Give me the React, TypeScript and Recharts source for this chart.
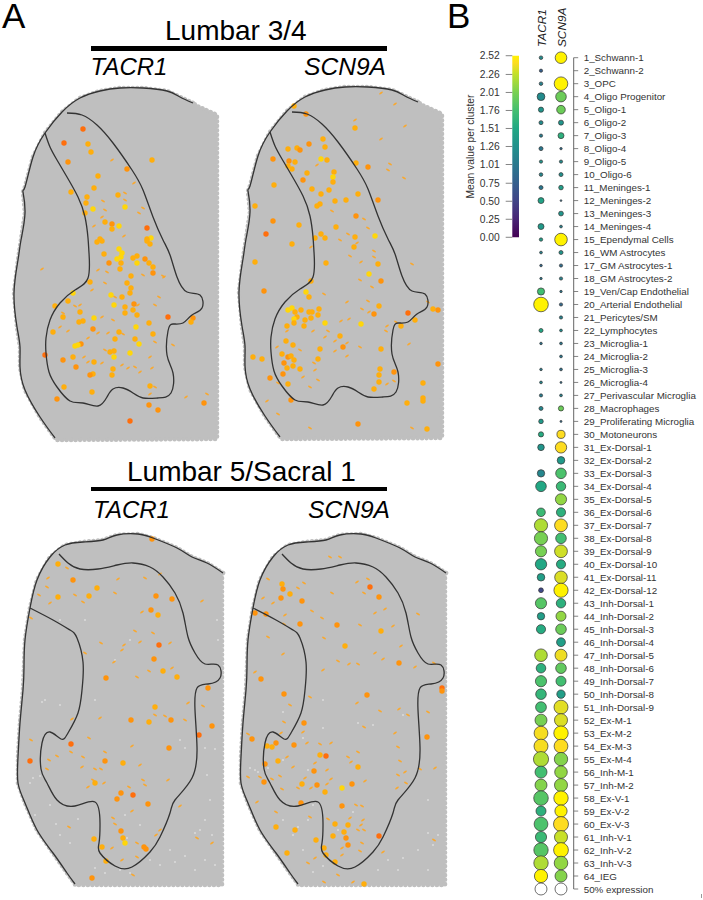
import { Bar, BarChart, Cell, Scatter, ScatterChart, XAxis, YAxis, ZAxis } from "recharts"

const clusterLabels = [
  "1_Schwann-1", "2_Schwann-2", "3_OPC", "4_Oligo Progenitor", "5_Oligo-1", "6_Oligo-2", "7_Oligo-3", "8_Oligo-4",
  "9_Oligo-5", "10_Oligo-6", "11_Meninges-1", "12_Meninges-2", "13_Meninges-3", "14_Meninges-4", "15_Ependymal Cells",
  "16_WM Astrocytes", "17_GM Astrocytes-1", "18_GM Astrocytes-2", "19_Ven/Cap Endothelial", "20_Arterial Endothelial",
  "21_Pericytes/SM", "22_Lymphocytes", "23_Microglia-1", "24_Microglia-2", "25_Microglia-3", "26_Microglia-4",
  "27_Perivascular Microglia", "28_Macrophages", "29_Proliferating Microglia", "30_Motoneurons", "31_Ex-Dorsal-1",
  "32_Ex-Dorsal-2", "33_Ex-Dorsal-3", "34_Ex-Dorsal-4", "35_Ex-Dorsal-5", "36_Ex-Dorsal-6", "37_Ex-Dorsal-7",
  "38_Ex-Dorsal-8", "39_Ex-Dorsal-9", "40_Ex-Dorsal-10", "41_Ex-Dorsal-11", "42_Ex-Dorsal-12", "43_Inh-Dorsal-1",
  "44_Inh-Dorsal-2", "45_Inh-Dorsal-3", "46_Inh-Dorsal-4", "47_Inh-Dorsal-5", "48_Inh-Dorsal-6", "49_Inh-Dorsal-7",
  "50_Inh-Dorsal-8", "51_Inh-Dorsal-9", "52_Ex-M-1", "53_Ex-M-2", "54_Ex-M-3", "55_Ex-M-4", "56_Inh-M-1", "57_Inh-M-2",
  "58_Ex-V-1", "59_Ex-V-2", "60_Ex-V-3", "61_Inh-V-1", "62_Inh-V-2", "63_Inh-V-3", "64_IEG", "50% expression",
]

// percent of cells expressing, per cluster (null = no dot)
const tacr1Pct = [
  4.5, 3.6, 4.5, 21, 9.4, 5.6, 3.6, 5.6, 3.6, 4.5, 5.6, 12.5, null, 12.5, 4, 2.7, 2.3, 2, 18, 74,
  null, 5.6, 2.3, null, 2.3, 2.7, 3.6, 5.6, 7.3, 9.4, 15, null, 19, 39, null, 25.7, 60.5, 60.5, 43.5, 45,
  20, 8, 43.5, 19, 29, null, 55, 32, 43.5, 39, 40.5, 50, 66, 68, 80, 50, 50, 74, 35, 66, 43.5, 72, 72, 60.5, 50,
]
const scn9aPct = [
  47, null, 64, 39, 25.7, 8.7, 12.5, 2, 3.6, 5.6, 7.3, 1.1, 8, 2.7, 55, 5.6, 3.6, 3.6, 2, 3.6,
  3.6, 2.7, 2.7, 2.7, 2.7, 1.4, 2.7, 9.4, 1.4, 23, 45, 20, 39, 31, 43.5, 29, 57, 39, 57, 29,
  55, 70, 31, 35, 39, 27, 50, 39, 35, 24.5, 68, 59, 72, 66, 62, 55, 59, 72, 52, 78, 59, 76, 64, 50, 50,
]
// mean value per cluster, drives the dot colour (null on the legend row = white)
const tacr1Mean = [
  1.2, 0.75, 1.1, 1.2, 1.3, 1.2, 1.05, 1.0, 1.3, 1.15, 1.0, 1.45, null, 1.35, 1.4, 1.1, 0.85, 1.0, 1.75, 2.52,
  null, 1.5, 0.95, null, 1.05, 1.15, 1.05, 1.15, 1.35, 1.55, 1.3, null, 1.15, 1.5, null, 1.7, 2.2, 2.0, 2.0, 1.5,
  1.4, 0.55, 1.85, 1.4, 1.55, null, 2.2, 1.6, 1.8, 1.65, 1.75, 2.0, 2.4, 2.4, 2.2, 1.75, 2.05, 1.85, 1.6, 1.8, 1.7, 1.85, 2.2, 2.52, null,
]
const scn9aMean = [
  2.52, null, 2.52, 1.95, 1.95, 1.3, 1.6, 0.9, 1.2, 1.25, 1.4, 0.9, 1.3, 1.1, 2.52, 1.3, 0.9, 1.1, 1.0, 0.85,
  1.1, 1.2, 1.0, 1.0, 0.95, 0.9, 1.1, 1.95, 0.9, 2.42, 2.42, 1.35, 1.8, 1.7, 2.1, 1.6, 2.42, 1.75, 2.3, 1.55,
  2.33, 2.52, 1.6, 2.1, 1.95, 1.4, 2.38, 1.9, 1.75, 1.4, 2.35, 2.33, 2.52, 2.42, 2.05, 2.1, 2.1, 2.52, 2.52, 2.42, 2.28, 2.52, 2.1, 2.05, null,
]
const colorTicks = [0, 0.25, 0.5, 0.75, 1.01, 1.26, 1.51, 1.76, 2.01, 2.26, 2.52]

const outerUpper = [
  [193, 103], [180, 97], [167, 91], [143, 88], [120, 88], [100, 91], [80, 98], [62, 112], [45, 133], [33, 157], [25, 187],
  [23, 192], [25, 213], [21, 240], [18, 260], [14, 293], [17, 327], [20, 347], [20, 367], [25, 390], [40, 417], [55, 438],
]
const cornersUpper = [[56, 440], [217, 439], [217, 115], [197, 106]]
const innerUpper = [
  [67, 113], [82, 115], [97, 125], [113, 143], [132, 170], [143, 190], [153, 217], [163, 240], [170, 255], [177, 277],
  [187, 292], [200, 295], [202, 308], [192, 315], [183, 323], [173, 324], [168, 331], [167, 355], [173, 373], [171, 393],
  [158, 398], [143, 398], [133, 393], [123, 388], [113, 389], [107, 397], [98, 406], [83, 403], [70, 401], [57, 387],
  [49, 372], [46, 353], [46, 338], [50, 320], [60, 303], [75, 290], [88, 278], [89, 253], [88, 238], [85, 217], [78, 197],
  [67, 177], [57, 160], [50, 147], [45, 133],
]
const outerLower = [
  [223, 573], [207, 563], [192, 557], [177, 548], [153, 538], [138, 534], [117, 535], [103, 540], [83, 542], [65, 545],
  [50, 557], [37, 580], [30, 608], [25, 640], [24, 667], [23, 690], [20, 723], [18, 757], [18, 783], [25, 803], [37, 830],
  [53, 853], [67, 873], [75, 884],
]
const cornersLower = [[75, 885], [222, 885], [222, 573]]
const innerLower = [
  [59, 554], [68, 563], [80, 569], [98, 569], [117, 565], [133, 563], [150, 567], [163, 577], [175, 593], [183, 613],
  [188, 637], [195, 653], [205, 664], [218, 665], [220, 678], [208, 684], [197, 688], [195, 710], [197, 747], [192, 778],
  [175, 800], [170, 813], [160, 837], [150, 852], [132, 867], [115, 866], [100, 853], [99, 843], [100, 823], [95, 802],
  [75, 806], [57, 800], [47, 783], [41, 769], [42, 743], [50, 732], [61, 739], [68, 733], [78, 713], [82, 690], [83, 662],
  [77, 638], [70, 630], [53, 620], [30, 608],
]

// spots: x, y, heat (0 red-orange .. 3 yellow)
const spotsTacrUpper = [
  [83, 129, 0], [64, 143, 0], [88, 144, 2], [91, 152, 2], [68, 162, 1], [152, 160, 2], [127, 169, 1], [98, 176, 2], [94, 188, 2],
  [71, 192, 2], [118, 195, 2], [125, 207, 3], [87, 197, 2], [86, 203, 2], [85, 213, 2], [93, 209, 3], [105, 222, 2], [112, 224, 1],
  [119, 226, 3], [112, 229, 2], [147, 228, 0], [100, 239, 2], [151, 238, 3], [147, 239, 2], [97, 242, 2], [102, 241, 2], [147, 241, 2],
  [150, 244, 2], [119, 249, 3], [122, 253, 3], [104, 254, 2], [121, 257, 3], [117, 259, 3], [133, 258, 2], [137, 256, 2], [137, 263, 3],
  [145, 259, 1], [149, 263, 2], [109, 263, 1], [121, 263, 2], [153, 267, 2], [120, 269, 2], [153, 273, 1], [131, 276, 2], [90, 282, 2],
  [127, 283, 2], [131, 288, 2], [73, 293, 3], [68, 301, 2], [111, 295, 3], [122, 297, 2], [130, 293, 2], [55, 306, 2], [114, 305, 3],
  [125, 307, 2], [134, 304, 1], [133, 310, 2], [125, 313, 2], [137, 315, 2], [80, 312, 2], [63, 317, 2], [168, 317, 0], [193, 318, 1],
  [191, 322, 2], [83, 321, 2], [79, 322, 2], [94, 318, 3], [149, 323, 2], [136, 327, 3], [93, 329, 1], [119, 332, 2], [53, 332, 2],
  [153, 334, 2], [115, 339, 2], [135, 339, 2], [81, 344, 1], [75, 346, 3], [78, 345, 3], [139, 344, 3], [114, 351, 2], [110, 352, 2],
  [130, 353, 3], [114, 357, 3], [45, 355, 0], [63, 360, 1], [73, 357, 2], [94, 362, 2], [76, 367, 1], [113, 369, 2], [93, 374, 2],
  [90, 375, 1], [112, 375, 2], [64, 387, 2], [150, 386, 2], [92, 392, 2], [57, 399, 1], [149, 405, 1], [158, 410, 1], [130, 421, 0], [204, 403, 1],
]
const spotsScnUpper = [
  [69, 107, 2], [81, 115, 1], [98, 140, 2], [84, 145, 1], [72, 149, 2], [75, 151, 1], [63, 150, 2], [100, 148, 2], [48, 160, 1], [96, 160, 3],
  [102, 161, 2], [130, 129, 2], [143, 168, 1], [131, 164, 2], [64, 162, 1], [70, 163, 2], [63, 167, 2], [67, 170, 2], [82, 174, 2], [109, 173, 2],
  [108, 178, 3], [108, 183, 2], [78, 181, 1], [49, 186, 2], [87, 190, 2], [104, 191, 2], [96, 195, 2], [133, 195, 2], [153, 201, 1], [30, 207, 2],
  [110, 202, 2], [121, 201, 2], [95, 205, 2], [92, 207, 2], [131, 217, 1], [48, 222, 1], [74, 226, 2], [111, 228, 2], [41, 235, 0], [96, 235, 2],
  [100, 239, 2], [90, 239, 2], [130, 238, 2], [150, 237, 3], [67, 245, 2], [129, 248, 2], [30, 263, 2], [101, 264, 2], [153, 265, 2], [144, 275, 3],
  [156, 282, 1], [86, 282, 2], [39, 292, 1], [81, 293, 3], [84, 298, 2], [154, 307, 2], [149, 315, 1], [183, 314, 0], [208, 310, 2], [213, 311, 1],
  [67, 309, 3], [63, 311, 3], [70, 313, 2], [76, 311, 2], [84, 313, 2], [87, 313, 2], [94, 310, 2], [93, 316, 2], [72, 318, 2], [69, 320, 3],
  [86, 319, 2], [80, 321, 2], [69, 324, 2], [62, 327, 2], [79, 327, 2], [100, 324, 3], [136, 325, 3], [190, 321, 2], [176, 327, 2], [115, 337, 2],
  [118, 348, 1], [156, 350, 2], [95, 350, 2], [61, 342, 2], [68, 346, 2], [57, 355, 2], [63, 358, 1], [66, 357, 2], [69, 361, 2], [93, 360, 2],
  [59, 364, 1], [62, 369, 2], [68, 367, 2], [75, 370, 2], [37, 360, 2], [28, 358, 2], [45, 379, 1], [58, 375, 1], [63, 385, 2], [155, 370, 2],
  [169, 373, 1], [154, 376, 2], [154, 383, 2], [149, 390, 2], [213, 365, 1], [198, 384, 2], [198, 399, 2], [198, 402, 2], [182, 404, 2], [66, 401, 1],
  [133, 425, 1], [202, 430, 2],
]
const spotsTacrLower = [
  [152, 539, 1], [58, 564, 2], [73, 580, 1], [97, 588, 2], [58, 597, 2], [89, 596, 2], [156, 596, 1], [172, 599, 1], [151, 610, 1], [158, 615, 2],
  [159, 645, 0], [154, 659, 1], [163, 671, 2], [177, 677, 2], [106, 678, 1], [208, 688, 1], [155, 707, 2], [131, 720, 1], [149, 722, 2], [171, 720, 1],
  [212, 726, 1], [199, 735, 0], [71, 744, 0], [169, 748, 1], [30, 761, 0], [105, 761, 1], [123, 763, 2], [95, 783, 2], [121, 793, 1], [133, 795, 0],
  [117, 799, 1], [148, 804, 1], [121, 831, 1], [123, 838, 2], [94, 839, 2], [125, 843, 3], [102, 847, 2], [144, 847, 1], [146, 849, 1], [106, 861, 2], [92, 878, 1],
]
const spotsScnLower = [
  [59, 584, 2], [60, 589, 1], [58, 598, 1], [67, 594, 2], [79, 601, 1], [147, 587, 0], [156, 597, 1], [32, 613, 1], [43, 614, 1], [77, 624, 1],
  [114, 625, 1], [158, 631, 2], [122, 646, 2], [176, 663, 1], [38, 679, 1], [219, 688, 0], [61, 694, 1], [144, 695, 1], [219, 691, 1], [81, 723, 1],
  [204, 737, 1], [29, 739, 1], [53, 743, 1], [49, 747, 2], [44, 746, 2], [71, 745, 1], [97, 755, 2], [103, 756, 0], [135, 767, 2], [42, 764, 1],
  [55, 761, 2], [91, 771, 1], [129, 784, 1], [119, 788, 3], [94, 785, 1], [41, 782, 1], [102, 792, 2], [79, 784, 2], [119, 806, 1], [78, 803, 1],
  [53, 827, 2], [72, 830, 2], [112, 824, 2], [125, 825, 2], [121, 832, 2], [110, 836, 2], [123, 838, 1], [93, 840, 2], [125, 845, 1], [101, 848, 2],
  [103, 855, 2], [64, 853, 2], [112, 862, 2], [141, 884, 2], [156, 836, 0],
]

// faint fragments of spots
const fragsTacrUpper = [
  [112, 160], [134, 183], [125, 193], [125, 200], [103, 201], [105, 210], [102, 217], [143, 208], [139, 213], [94, 226], [124, 236], [42, 269],
  [164, 277], [98, 270], [107, 272], [105, 283], [92, 290], [143, 275], [163, 276], [159, 297], [155, 305], [138, 305], [115, 297], [80, 305],
  [75, 306], [63, 313], [63, 318], [102, 317], [113, 320], [60, 327], [68, 331], [88, 338], [98, 333], [108, 333], [123, 334], [155, 342],
  [105, 350], [150, 357], [84, 357], [88, 362], [102, 363], [122, 365], [128, 368], [135, 367], [152, 368], [140, 372], [155, 387], [150, 394],
  [207, 394], [186, 397], [173, 345],
]
const fragsScnUpper = [
  [130, 121], [170, 105], [180, 127], [165, 165], [163, 171], [179, 179], [92, 166], [107, 212], [139, 220], [143, 229], [123, 235], [115, 241],
  [132, 244], [86, 248], [136, 263], [125, 257], [156, 94], [135, 281], [147, 288], [99, 295], [122, 303], [143, 302], [137, 310], [144, 313],
  [116, 322], [124, 320], [62, 332], [88, 332], [103, 332], [100, 338], [110, 342], [122, 344], [75, 351], [52, 348], [135, 348], [110, 352],
  [122, 357], [89, 364], [90, 371], [78, 378], [93, 381], [85, 388], [162, 385], [169, 382], [53, 384], [42, 402], [53, 415], [171, 323],
  [162, 327], [161, 332], [184, 345], [203, 303], [156, 140], [149, 252], [149, 258], [187, 265], [187, 429], [85, 429],
]
const fragsTacrLower = [
  [48, 578], [47, 587], [39, 595], [50, 603], [67, 568], [75, 595], [83, 602], [115, 593], [118, 579], [145, 578], [142, 612], [135, 631], [153, 633],
  [101, 643], [124, 645], [140, 642], [170, 643], [122, 650], [114, 662], [137, 677], [172, 668], [202, 601], [31, 618], [160, 574], [85, 653], [149, 671],
  [31, 740], [89, 738], [132, 746], [105, 752], [71, 752], [83, 757], [49, 760], [57, 756], [82, 767], [95, 769], [101, 769], [47, 769], [140, 765],
  [93, 780], [104, 783], [88, 787], [143, 780], [145, 785], [129, 787], [69, 827], [113, 818], [115, 824], [156, 835], [160, 830], [137, 843], [112, 848],
  [122, 860], [180, 806], [197, 838], [212, 843], [203, 706], [165, 716], [155, 715], [100, 718], [72, 719], [188, 703], [168, 780], [185, 720], [132, 811],
  [137, 857], [133, 875],
]
const fragsScnLower = [
  [45, 579], [40, 598], [50, 603], [75, 588], [81, 583], [62, 615], [61, 624], [109, 593], [117, 557], [107, 557], [134, 582], [145, 579], [141, 593],
  [99, 618], [152, 613], [162, 609], [170, 626], [195, 614], [45, 637], [60, 654], [101, 638], [89, 611], [137, 625], [178, 646], [152, 653], [160, 659],
  [115, 661], [135, 664], [100, 670], [192, 667], [211, 663], [32, 672], [126, 664], [87, 697], [67, 705], [134, 703], [157, 711], [176, 709], [185, 715],
  [205, 712], [61, 722], [80, 732], [141, 727], [172, 733], [25, 734], [58, 733], [84, 743], [97, 744], [108, 743], [135, 752], [175, 747], [64, 757],
  [70, 767], [125, 757], [128, 762], [92, 763], [104, 770], [177, 761], [197, 769], [212, 768], [25, 777], [37, 777], [49, 779], [57, 776], [82, 778],
  [142, 781], [175, 775], [182, 772], [183, 783], [174, 788], [104, 784], [108, 779], [88, 788], [75, 788], [59, 789], [34, 802], [53, 812], [133, 805],
  [139, 806], [87, 817], [105, 819], [140, 820], [127, 818], [135, 830], [141, 830], [138, 825], [119, 848], [119, 855], [139, 843], [137, 851], [92, 858],
  [211, 840], [101, 882], [115, 875], [130, 882], [85, 863], [160, 852],
]
// pale gaps between the spots on the lower sections
const gapsTacrLower = [
  [33, 778], [40, 776], [30, 783], [50, 805], [35, 815], [78, 819], [56, 824], [60, 835], [70, 843], [180, 740], [185, 748], [205, 748], [215, 749],
  [207, 775], [210, 800], [205, 820], [200, 830], [212, 835], [195, 833], [170, 850], [185, 856], [175, 862], [160, 865], [150, 860], [120, 870],
  [130, 873], [105, 873], [95, 868], [140, 825], [125, 815], [127, 838], [205, 860], [215, 865], [195, 870], [45, 700], [42, 702], [60, 705], [95, 700],
  [115, 660], [130, 640], [85, 620], [60, 620], [218, 640], [217, 620],
]
const gapsScnLower = [
  [27, 768], [32, 770], [35, 772], [45, 768], [60, 820], [75, 827], [85, 820], [90, 805], [100, 700], [60, 712], [135, 723], [150, 725], [180, 715],
  [195, 770], [205, 800], [205, 833], [215, 835], [210, 845], [195, 850], [180, 858], [165, 860], [155, 870], [175, 870], [205, 870], [100, 866],
  [90, 872], [80, 850], [70, 835], [130, 812], [120, 808], [115, 830], [100, 728], [80, 738], [60, 760], [85, 770],
]

const FONT = "'Liberation Sans', Arial, sans-serif"
const TISSUE = "#bfbfbf"
const heatColors = ["#ff6e0c", "#ff930c", "#ffae0c", "#ffd60a"]
const viridisStops: [number, string][] = [
  [0, "#440154"], [0.1, "#482475"], [0.2, "#414487"], [0.3, "#355f8d"], [0.4, "#2a788e"], [0.5, "#21918c"],
  [0.6, "#22a884"], [0.7, "#44bf70"], [0.8, "#7ad151"], [0.9, "#c3e02a"], [0.96, "#fddc20"], [1, "#fff200"],
]

function meanColor(value: number | null) {
  if (value === null) return "#ffffff"
  const t = Math.min(1, value / 2.52)
  for (let i = 1; i < viridisStops.length; i++) {
    if (t <= viridisStops[i][0]) {
      const [t0, c0] = viridisStops[i - 1]
      const [t1, c1] = viridisStops[i]
      const f = (t - t0) / (t1 - t0)
      const mix = [1, 3, 5].map((s) => {
        const a = parseInt(c0.slice(s, s + 2), 16)
        const b = parseInt(c1.slice(s, s + 2), 16)
        return Math.round(a + (b - a) * f)
      })
      return `rgb(${mix.join(",")})`
    }
  }
  return "#fff200"
}

const toRows = (points: number[][]) => points.map(([x, y, heat]) => ({ x, y, heat }))
const noDot = () => <g />

function TissueFill(props: any) {
  const d = "M" + props.points.map((p: any) => `${p.x},${p.y}`).join("L") + "Z"
  return <path d={d} fill={TISSUE} stroke={TISSUE} strokeWidth={4.6} strokeDasharray="0.1 4.4" strokeLinecap="round" />
}

function Section({ left, top, outer, corners, inner, spots, frags, gaps = [] }: any) {
  const contour = { stroke: "#333333", strokeWidth: 1.3, strokeLinejoin: "round" }
  return (
    <div style={{ position: "absolute", left, top }}>
      <ScatterChart width={228} height={900} margin={{ top: 0, right: 0, bottom: 0, left: 0 }}>
        <XAxis dataKey="x" type="number" domain={[0, 228]} hide />
        <YAxis dataKey="y" type="number" domain={[0, 900]} reversed hide />
        <Scatter data={toRows([...outer, ...corners])} line={TissueFill} shape={noDot} isAnimationActive={false} />
        <Scatter
          data={toRows(gaps)}
          isAnimationActive={false}
          shape={(p: any) => <circle cx={p.cx} cy={p.cy} r={0.8} fill="#ffffff" opacity={0.75} />}
        />
        <Scatter
          data={toRows(frags)}
          isAnimationActive={false}
          shape={(p: any) => (
            <ellipse
              cx={p.cx}
              cy={p.cy}
              rx={2.2}
              ry={0.9}
              fill="#ffa51e"
              opacity={0.9}
              transform={`rotate(${p.cx % 2 < 1 ? -35 : 30} ${p.cx} ${p.cy})`}
            />
          )}
        />
        <Scatter
          data={toRows(spots)}
          isAnimationActive={false}
          shape={(p: any) => <circle cx={p.cx} cy={p.cy} r={2.7} fill={heatColors[p.payload.heat]} />}
        />
        <Scatter data={toRows(outer)} line={contour} lineJointType="natural" shape={noDot} isAnimationActive={false} />
        <Scatter data={toRows(inner)} line={contour} lineJointType="natural" shape={noDot} isAnimationActive={false} />
      </ScatterChart>
    </div>
  )
}

function Heading({ left, top, size, italic, children }: any) {
  return (
    <div
      style={{
        position: "absolute",
        left,
        top,
        fontFamily: FONT,
        fontSize: size,
        fontStyle: italic ? "italic" : "normal",
        lineHeight: 1,
        whiteSpace: "nowrap",
        color: "#000",
      }}
    >
      {children}
    </div>
  )
}

const Rule = ({ top }: { top: number }) => (
  <div style={{ position: "absolute", left: 90.5, top, width: 296.5, height: 4.8, background: "#000" }} />
)

const dotRows = (pct: (number | null)[], mean: (number | null)[], column: number) =>
  pct
    .map((z, i) => ({ x: column, y: i + 1, z, mean: mean[i] }))
    .filter((row) => row.z !== null)

const tacr1Rows = dotRows(tacr1Pct, tacr1Mean, 1)
const scn9aRows = dotRows(scn9aPct, scn9aMean, 2)
const geneNames = ["", "TACR1", "SCN9A"]
const rowTicks = clusterLabels.map((_, i) => i + 1)

function GeneTick({ x, payload }: any) {
  return (
    <text
      transform={`translate(${x + 4.5},47) rotate(-90)`}
      fontFamily={FONT}
      fontSize={11.8}
      fontStyle="italic"
      fill="#222"
    >
      {geneNames[payload.value]}
    </text>
  )
}

// plain text tick: the default one wraps long labels
function ClusterTick({ x, y, payload }: any) {
  return (
    <text x={x} y={y + 3.5} fontFamily={FONT} fontSize={9.8} fill="#333">
      {clusterLabels[payload.value - 1]}
    </text>
  )
}

function DotPlot() {
  return (
    <div style={{ position: "absolute", left: 521, top: 0 }}>
      <ScatterChart width={182} height={900} margin={{ top: 0, right: 0, bottom: 11, left: 0 }}>
        <XAxis
          dataKey="x"
          type="number"
          orientation="top"
          domain={[0, 2.635]}
          ticks={[1, 2]}
          height={57.7}
          axisLine={false}
          tickLine={false}
          tick={GeneTick}
        />
        <YAxis
          dataKey="y"
          type="number"
          orientation="right"
          reversed
          domain={[1, 65]}
          ticks={rowTicks}
          interval={0}
          width={129.3}
          tickSize={4.5}
          tickMargin={5.5}
          tick={ClusterTick}
          axisLine={{ stroke: "#666", strokeWidth: 1 }}
          tickLine={{ stroke: "#666", strokeWidth: 0.8 }}
        />
        <ZAxis dataKey="z" type="number" domain={[0, 100]} range={[0, 226]} />
        {[tacr1Rows, scn9aRows].map((rows, s) => (
          <Scatter key={s} data={rows} isAnimationActive={false}>
            {rows.map((row) => (
              <Cell key={row.y} fill={meanColor(row.mean)} stroke="#333" strokeWidth={0.7} />
            ))}
          </Scatter>
        ))}
      </ScatterChart>
    </div>
  )
}

function ColorBar() {
  return (
    <div style={{ position: "absolute", left: 460, top: 0 }}>
      <BarChart
        width={59.3}
        height={260}
        data={[{ name: "scale", value: 2.52 }]}
        margin={{ top: 55.7, right: 0, bottom: 22.7, left: 0 }}
        barCategoryGap={0}
      >
        <defs>
          <linearGradient id="viridisBar" x1="0" y1="1" x2="0" y2="0">
            {viridisStops.map(([t, c]) => (
              <stop key={t} offset={t} stopColor={c} />
            ))}
          </linearGradient>
        </defs>
        <XAxis dataKey="name" hide />
        <YAxis
          type="number"
          domain={[0, 2.52]}
          ticks={colorTicks}
          interval={0}
          width={52.3}
          axisLine={false}
          tickSize={6.6}
          tickMargin={6}
          tickFormatter={(v: number) => v.toFixed(2)}
          tick={{ fontFamily: FONT, fontSize: 10.3, fill: "#333" }}
          tickLine={{ stroke: "#666", strokeWidth: 0.8 }}
          label={{
            value: "Mean value per cluster",
            angle: -90,
            position: "insideLeft",
            offset: 10,
            style: { fontFamily: FONT, fontSize: 10.3, fill: "#333", textAnchor: "middle" },
          }}
        />
        <Bar dataKey="value" fill="url(#viridisBar)" isAnimationActive={false} />
      </BarChart>
    </div>
  )
}

export default function App() {
  return (
    <div style={{ position: "absolute", left: 0, top: 0, width: 703, height: 900, background: "#fff", overflow: "hidden" }}>
      <Section left={0} top={0} outer={outerUpper} corners={cornersUpper} inner={innerUpper} spots={spotsTacrUpper} frags={fragsTacrUpper} />
      <Section left={225} top={-1} outer={outerUpper} corners={cornersUpper} inner={innerUpper} spots={spotsScnUpper} frags={fragsScnUpper} />
      <Section left={0} top={0} outer={outerLower} corners={cornersLower} inner={innerLower} spots={spotsTacrLower} frags={fragsTacrLower} gaps={gapsTacrLower} />
      <Section left={223} top={0} outer={outerLower} corners={cornersLower} inner={innerLower} spots={spotsScnLower} frags={fragsScnLower} gaps={gapsScnLower} />

      <div style={{ position: "absolute", left: 2, top: 1.5, fontFamily: FONT, fontSize: 35, lineHeight: 0.8, color: "#000" }}>A</div>
      <div style={{ position: "absolute", left: 447, top: 1.5, fontFamily: FONT, fontSize: 35, lineHeight: 0.8, color: "#000" }}>B</div>
      <Heading left={165} top={17.3} size={28}>Lumbar 3/4</Heading>
      <Rule top={46} />
      <Heading left={90.5} top={55.4} size={24} italic>TACR1</Heading>
      <Heading left={304} top={55.4} size={24.6} italic>SCN9A</Heading>
      <Heading left={127} top={458.3} size={28}>Lumbar 5/Sacral 1</Heading>
      <Rule top={486.5} />
      <Heading left={93} top={497.7} size={24} italic>TACR1</Heading>
      <Heading left={308} top={497.7} size={24.6} italic>SCN9A</Heading>

      <ColorBar />
      <DotPlot />
      <div style={{ position: "absolute", left: 701, top: 894, width: 1, height: 4, background: "#999" }} />
    </div>
  )
}
